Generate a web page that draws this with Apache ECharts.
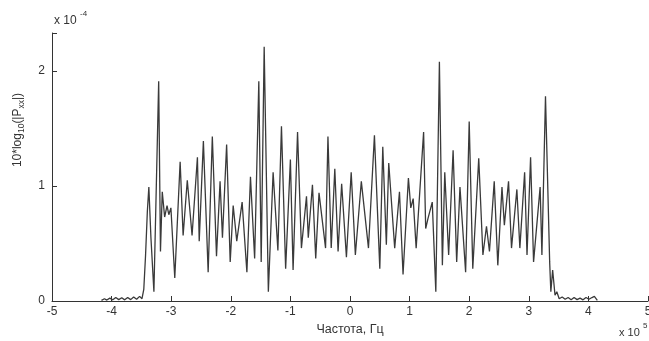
<!DOCTYPE html>
<html>
<head>
<meta charset="utf-8">
<script src="https://cdn.jsdelivr.net/npm/echarts@6/dist/echarts.min.js"></script>
<style>
html,body{margin:0;padding:0;background:#fff;}
#chart{width:649px;height:341px;}
</style>
</head>
<body>
<div id="chart"></div>
<script>
// Frequency (x 10^5 Hz)
var freq = [
-4.17,-4.12,-4.08,-4.03,-3.98,-3.93,-3.88,-3.83,-3.78,-3.73,-3.68,-3.63,-3.58,-3.53,-3.49,-3.46,-3.43,-3.40,-3.375,-3.34,
-3.29,-3.21,-3.18,-3.15,-3.11,-3.07,-3.04,-3.005,-2.94,-2.85,-2.80,-2.73,-2.65,-2.56,-2.53,-2.46,-2.38,-2.31,-2.24,-2.18,
-2.14,-2.07,-2.01,-1.96,-1.90,-1.81,-1.73,-1.67,-1.60,-1.53,-1.49,-1.44,-1.37,-1.29,-1.21,-1.15,-1.08,-1.00,-0.955,-0.88,
-0.815,-0.73,-0.70,-0.63,-0.575,-0.52,-0.41,-0.37,-0.315,-0.255,-0.2,-0.14,-0.06,0.02,0.09,0.19,0.31,0.41,0.50,0.55,
0.61,0.65,0.75,0.83,0.89,0.98,1.02,1.06,1.11,1.235,1.27,1.31,1.38,1.44,1.50,1.55,1.59,1.655,1.73,1.79,
1.845,1.94,2.00,2.06,2.16,2.23,2.29,2.34,2.42,2.48,2.55,2.59,2.66,2.71,2.80,2.85,2.93,2.97,3.03,3.08,
3.19,3.22,3.28,3.35,3.37,3.40,3.44,3.47,3.51,3.56,3.61,3.66,3.71,3.76,3.81,3.86,3.91,3.96,4.01,4.06,
4.10,4.15
];
// Power spectral density (x 10^-4)
var pxx = [
0.005,0.02,0.008,0.025,0.01,0.03,0.012,0.028,0.01,0.03,0.012,0.035,0.015,0.04,0.02,0.1,0.4,0.78,0.99,0.55,
0.08,1.91,0.43,0.95,0.73,0.83,0.75,0.81,0.2,1.21,0.57,1.05,0.57,1.25,0.52,1.39,0.25,1.43,0.39,1.04,
0.55,1.36,0.34,0.83,0.52,0.86,0.25,1.08,0.37,1.91,0.34,2.21,0.08,1.12,0.44,1.52,0.28,1.23,0.27,1.47,
0.46,0.91,0.55,1.01,0.37,0.94,0.46,1.43,0.46,1.15,0.43,1.02,0.38,1.12,0.40,1.04,0.46,1.44,0.28,1.34,
0.49,1.20,0.46,0.95,0.23,1.07,0.81,0.89,0.46,1.47,0.63,0.72,0.86,0.08,2.08,0.31,1.12,0.40,1.31,0.34,
0.99,0.25,1.56,0.28,1.24,0.40,0.65,0.43,1.04,0.31,0.99,0.66,1.04,0.46,0.97,0.46,1.12,0.40,1.25,0.34,
0.99,0.40,1.78,0.34,0.08,0.27,0.05,0.08,0.02,0.035,0.015,0.03,0.01,0.03,0.012,0.025,0.01,0.03,0.015,0.03,
0.04,0.005
];
var xTicks = [-5,-4,-3,-2,-1,0,1,2,3,4,5];
var yTicks = [0,1,2];

var data = freq.map(function(f,i){return [f,pxx[i]];});
var chart = echarts.init(document.getElementById('chart'));
var FONT = 'Liberation Sans, Arial, sans-serif';
chart.setOption({
  animation:false,
  backgroundColor:'#fff',
  grid:{left:52,right:1,top:33,bottom:40,outerBoundsMode:'none',containLabel:false},
  xAxis:{
    type:'value',min:-5,max:5,interval:1,
    axisLine:{onZero:false,lineStyle:{color:'#333',width:1}},
    axisTick:{inside:true,length:5,lineStyle:{color:'#333'}},
    splitLine:{show:false},
    axisLabel:{color:'#333',fontSize:12,fontFamily:FONT,margin:5,
      formatter:function(v){return xTicks.indexOf(v)>=0?String(v):'';}},
    name:'Частота, Гц',nameLocation:'middle',nameGap:21,
    nameTextStyle:{color:'#333',fontSize:12.5,fontFamily:FONT}
  },
  yAxis:{
    type:'value',min:0,max:2.33,interval:1,
    axisLine:{show:true,onZero:false,lineStyle:{color:'#333',width:1}},
    axisTick:{show:true,inside:true,length:5,lineStyle:{color:'#333'}},
    splitLine:{show:false},
    axisLabel:{color:'#333',fontSize:12,fontFamily:FONT,margin:7,
      formatter:function(v){return yTicks.indexOf(v)>=0?String(v):'';}}
  },
  series:[{
    type:'line',data:data,showSymbol:false,
    lineStyle:{color:'#3a3a3a',width:1.3},
    clip:true
  }],
  graphic:[
    {type:'text',left:54,top:15,style:{text:'x 10',font:'12px '+FONT,fill:'#333'}},
    {type:'text',left:80,top:10,style:{text:'-4',font:'8px '+FONT,fill:'#333'}},
    {type:'text',left:619,top:327,style:{text:'x 10',font:'11px '+FONT,fill:'#333'}},
    {type:'text',left:643,top:322,style:{text:'5',font:'8px '+FONT,fill:'#333'}},
    {type:'text',x:18,y:130,rotation:Math.PI/2,
      style:{
        text:'10*log{s|10}(|P{s|xx}|)',
        fill:'#333',font:'12px '+FONT,
        align:'center',verticalAlign:'middle',
        rich:{s:{fontSize:8.5,fontFamily:FONT,fill:'#333',verticalAlign:'bottom',lineHeight:17}}
      }}
  ]
});
</script>
</body>
</html>
